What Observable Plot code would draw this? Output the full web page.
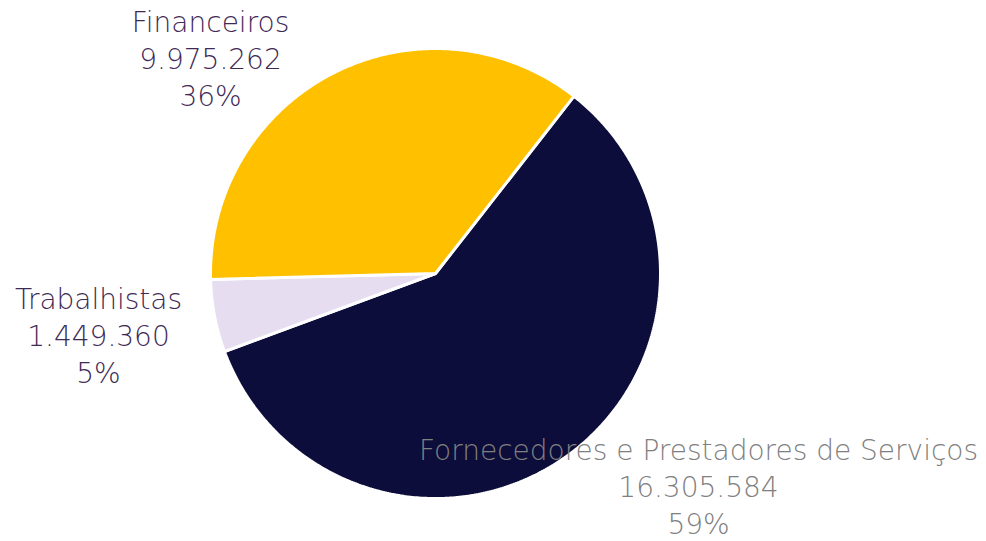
<!DOCTYPE html>
<html><head><meta charset="utf-8">
<script src="https://cdn.jsdelivr.net/npm/d3@7"></script>
<script src="https://cdn.jsdelivr.net/npm/@observablehq/plot@0.6"></script>
<style>body{margin:0;background:#fff}</style>
</head><body><div id="chart"></div>
<script>
const categories = ["Fornecedores e Prestadores de Serviços", "Trabalhistas", "Financeiros"];
const values = [16305584, 1449360, 9975262];
const valueLabels = ["16.305.584", "1.449.360", "9.975.262"];
const percentLabels = ["59%", "5%", "36%"];
const colors = ["#0D0D3B", "#E6DEF0", "#FFC000"];
const labelColors = ["#808080", "#3F2A56", "#3F2A56"];

const W = 986, H = 541;
const cx = 435, cy = 273, R = 225;
const startDeg = 38;

const pie = d3.pie().sort(null).startAngle(startDeg * Math.PI / 180).endAngle((startDeg + 360) * Math.PI / 180)(values);
const pts = [];
pie.forEach((s, i) => {
  const name = categories[i];
  pts.push({name, x: cx, y: cy});
  const n = Math.max(2, Math.ceil((s.endAngle - s.startAngle) / 0.01));
  for (let k = 0; k <= n; k++) {
    const a = s.startAngle + (s.endAngle - s.startAngle) * k / n;
    pts.push({name, x: cx + R * Math.sin(a), y: cy - R * Math.cos(a)});
  }
});

const labelPos = [
  {x: 698, y: 485},
  {x: 98, y: 334},
  {x: 210, y: 57}
];
const labels = categories.map((c, i) => ({
  text: `${c}\n${valueLabels[i]}\n${percentLabels[i]}`,
  x: labelPos[i].x, y: labelPos[i].y, color: labelColors[i]
}));

const chart = Plot.plot({
  width: W, height: H,
  margin: 0,
  x: {domain: [0, W], range: [0, W], axis: null},
  y: {domain: [0, H], range: [0, H], axis: null},
  color: {domain: categories, range: colors},
  style: {fontFamily: "'DejaVu Sans', sans-serif"},
  marks: [
    Plot.line(pts, {x: "x", y: "y", z: "name", fill: "name", stroke: "white", strokeWidth: 3, curve: "linear-closed", strokeLinejoin: "miter"}),
    Plot.text(labels, {x: "x", y: "y", text: "text", fill: d => d.color, fontSize: 28, lineHeight: 1.32, lineAnchor: "middle", textAnchor: "middle", fontWeight: 300})
  ]
});
document.getElementById("chart").appendChild(chart);
</script>
</body></html>
